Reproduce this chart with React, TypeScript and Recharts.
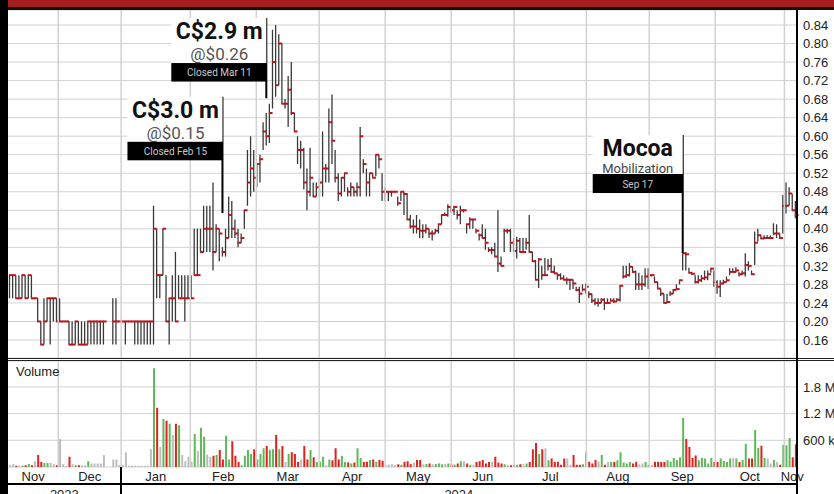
import React from 'react'
import {
  ComposedChart,
  Bar,
  Cell,
  XAxis,
  YAxis,
  CartesianGrid,
  ReferenceLine,
  ReferenceDot,
} from 'recharts'

// daily bars, Nov 2023 -> Nov 2024 (null = no trade)
const HIGH = [
  0.30, 0.30, 0.30, 0.30, 0.30, 0.30, 0.30, 0.30, 0.25, 0.25,
  0.20, 0.25, 0.25, 0.25, 0.25, 0.25, 0.25, 0.20, 0.20, 0.20,
  0.20, 0.20, 0.20, 0.20, 0.20, 0.20, 0.20, 0.20, 0.20, 0.20,
  0.20, null, null, 0.25, 0.25, 0.20, 0.20, 0.20, 0.20, 0.20,
  0.20, 0.20, 0.20, 0.20, 0.20, 0.20, 0.45, 0.40, 0.30, 0.40,
  0.30, 0.25, 0.30, 0.35, 0.30, 0.30, 0.30, 0.30, 0.30, 0.40,
  0.40, 0.40, 0.45, 0.45, 0.45, 0.50, 0.41, 0.40, 0.36, 0.40,
  0.47, 0.46, 0.42, 0.40, 0.39, 0.44, 0.57, 0.60, 0.57, 0.54,
  0.56, 0.63, 0.65, 0.67, 0.83, 0.84, 0.82, 0.80, 0.68, 0.73,
  0.76, 0.65, 0.60, 0.59, 0.575, 0.53, 0.575, 0.50, 0.50, 0.51,
  0.61, 0.54, 0.66, 0.69, 0.57, 0.52, 0.51, 0.52, 0.49, 0.50,
  0.49, 0.50, 0.62, 0.55, 0.53, 0.52, 0.52, 0.56, 0.56, 0.52,
  0.49, 0.48, 0.48, 0.48, 0.47, 0.48, 0.48, 0.477, 0.43, 0.42,
  0.43, 0.42, 0.41, 0.41, 0.40, 0.397, 0.40, 0.41, 0.43, 0.435,
  0.453, 0.45, 0.45, 0.44, 0.45, 0.44, 0.41, 0.425, 0.42, 0.40,
  0.39, 0.41, 0.40, 0.36, 0.36, 0.37, 0.44, 0.34, 0.40, 0.40,
  0.40, 0.38, 0.383, 0.38, 0.38, 0.38, 0.43, 0.35, 0.333, 0.337,
  0.32, 0.337, 0.335, 0.337, 0.32, 0.304, 0.304, 0.30, 0.295, 0.29,
  0.29, 0.275, 0.275, 0.28, 0.282, 0.265, 0.26, 0.25, 0.25, 0.25,
  0.25, 0.25, 0.25, 0.25, 0.25, 0.278, 0.32, 0.32, 0.326, 0.318,
  0.31, 0.305, 0.30, 0.315, 0.315, 0.30, 0.297, 0.285, 0.27, 0.26,
  0.26, 0.265, 0.27, 0.28, 0.289, 0.35, 0.35, 0.316, 0.305, 0.30,
  0.30, 0.30, 0.31, 0.31, 0.315, 0.31, 0.289, 0.289, 0.29, 0.297,
  0.315, 0.315, 0.317, 0.307, 0.31, 0.347, 0.33, 0.31, 0.394, 0.40,
  0.386, 0.386, 0.386, 0.386, 0.412, 0.41, 0.39, 0.473, 0.50, 0.49,
  0.475, 0.46,
]

const LOW = [
  0.25, 0.25, 0.25, 0.25, 0.25, 0.25, 0.25, 0.25, 0.25, 0.20,
  0.15, 0.15, 0.20, 0.15, 0.20, 0.20, 0.20, 0.20, 0.20, 0.15,
  0.15, 0.15, 0.15, 0.15, 0.15, 0.15, 0.15, 0.15, 0.15, 0.15,
  0.15, null, null, 0.15, 0.15, 0.20, 0.20, 0.15, 0.20, 0.20,
  0.15, 0.15, 0.15, 0.15, 0.15, 0.15, 0.15, 0.25, 0.25, 0.30,
  0.20, 0.15, 0.20, 0.20, 0.25, 0.25, 0.20, 0.25, 0.25, 0.30,
  0.30, 0.35, 0.35, 0.35, 0.35, 0.31, 0.35, 0.33, 0.34, 0.34,
  0.38, 0.38, 0.38, 0.36, 0.37, 0.40, 0.45, 0.47, 0.48, 0.49,
  0.50, 0.57, 0.58, 0.585, 0.66, 0.685, 0.71, 0.67, 0.66, 0.62,
  0.645, 0.61, 0.54, 0.53, 0.485, 0.44, 0.47, 0.47, 0.47, 0.47,
  0.47, 0.50, 0.50, 0.54, 0.50, 0.46, 0.47, 0.48, 0.47, 0.47,
  0.47, 0.47, 0.47, 0.52, 0.47, 0.47, 0.51, 0.513, 0.53, 0.46,
  0.46, 0.46, 0.47, 0.48, 0.45, 0.46, 0.43, 0.42, 0.40, 0.39,
  0.39, 0.38, 0.38, 0.39, 0.38, 0.375, 0.39, 0.39, 0.41, 0.43,
  0.426, 0.435, 0.43, 0.42, 0.41, 0.435, 0.39, 0.40, 0.40, 0.39,
  0.375, 0.38, 0.355, 0.35, 0.345, 0.34, 0.307, 0.32, 0.35, 0.39,
  0.35, 0.35, 0.336, 0.35, 0.35, 0.355, 0.35, 0.33, 0.29, 0.272,
  0.29, 0.30, 0.31, 0.305, 0.304, 0.29, 0.29, 0.29, 0.28, 0.268,
  0.27, 0.265, 0.24, 0.265, 0.26, 0.25, 0.24, 0.235, 0.232, 0.24,
  0.225, 0.24, 0.243, 0.24, 0.243, 0.243, 0.293, 0.295, 0.297, 0.305,
  0.268, 0.268, 0.268, 0.275, 0.27, 0.297, 0.285, 0.27, 0.255, 0.24,
  0.24, 0.255, 0.26, 0.27, 0.28, 0.31, 0.31, 0.305, 0.30, 0.282,
  0.282, 0.285, 0.289, 0.289, 0.305, 0.275, 0.26, 0.253, 0.28, 0.285,
  0.30, 0.305, 0.305, 0.297, 0.30, 0.297, 0.31, 0.30, 0.322, 0.372,
  0.378, 0.378, 0.378, 0.378, 0.386, 0.38, 0.378, 0.39, 0.433, 0.45,
  0.44, 0.423,
]

const CLOSE = [
  0.30, 0.30, 0.25, 0.25, 0.30, 0.25, 0.30, 0.25, 0.25, 0.20,
  0.15, 0.20, 0.25, 0.25, 0.25, 0.20, 0.20, 0.20, 0.20, 0.15,
  0.15, 0.20, 0.15, 0.15, 0.15, 0.20, 0.20, 0.20, 0.20, 0.20,
  0.20, null, null, 0.20, 0.20, 0.20, 0.20, 0.20, 0.20, 0.20,
  0.20, 0.20, 0.20, 0.20, 0.20, 0.20, 0.40, 0.30, 0.30, 0.40,
  0.20, 0.25, 0.25, 0.20, 0.25, 0.25, 0.25, 0.25, 0.25, 0.30,
  0.30, 0.35, 0.40, 0.40, 0.40, 0.35, 0.40, 0.39, 0.35, 0.38,
  0.43, 0.40, 0.39, 0.37, 0.38, 0.44, 0.50, 0.53, 0.51, 0.54,
  0.55, 0.61, 0.60, 0.65, 0.76, 0.71, 0.80, 0.67, 0.67, 0.70,
  0.65, 0.61, 0.57, 0.57, 0.50, 0.48, 0.51, 0.47, 0.49, 0.50,
  0.53, 0.53, 0.63, 0.59, 0.51, 0.476, 0.51, 0.52, 0.48, 0.49,
  0.48, 0.49, 0.60, 0.54, 0.50, 0.52, 0.51, 0.56, 0.55, 0.48,
  0.48, 0.48, 0.48, 0.48, 0.455, 0.48, 0.475, 0.42, 0.405, 0.405,
  0.40, 0.396, 0.396, 0.40, 0.39, 0.39, 0.396, 0.41, 0.43, 0.43,
  0.447, 0.44, 0.447, 0.43, 0.44, 0.44, 0.41, 0.42, 0.42, 0.396,
  0.386, 0.38, 0.37, 0.354, 0.354, 0.34, 0.325, 0.32, 0.396, 0.396,
  0.37, 0.352, 0.374, 0.35, 0.35, 0.37, 0.35, 0.33, 0.29, 0.334,
  0.30, 0.30, 0.32, 0.307, 0.304, 0.30, 0.293, 0.29, 0.29, 0.29,
  0.282, 0.268, 0.26, 0.269, 0.275, 0.259, 0.245, 0.24, 0.24, 0.247,
  0.24, 0.24, 0.245, 0.243, 0.247, 0.277, 0.297, 0.30, 0.318, 0.307,
  0.28, 0.28, 0.28, 0.297, 0.30, 0.30, 0.285, 0.271, 0.26, 0.24,
  0.242, 0.26, 0.268, 0.27, 0.289, 0.347, 0.345, 0.305, 0.303, 0.285,
  0.289, 0.293, 0.295, 0.302, 0.314, 0.285, 0.275, 0.282, 0.285, 0.289,
  0.307, 0.307, 0.31, 0.302, 0.304, 0.322, 0.32, 0.302, 0.37, 0.386,
  0.379, 0.38, 0.38, 0.38, 0.39, 0.39, 0.38, 0.449, 0.45, 0.476,
  0.44, 0.43,
]

// millions of shares
const VOLUME = [
  0.04, 0.07, 0.03, 0.03, 0.03, 0.04, 0.07, 0.04, 0.13, 0.27,
  0.11, 0.09, 0.09, 0.09, 0.06, 0.04, 0.63, 0.06, 0.03, 0.23,
  0.06, 0.04, 0.04, 0.04, 0.04, 0.13, 0.08, 0.08, 0.08, 0.08,
  0.27, null, null, 0.17, 0.17, 0.05, 0.04, 0.33, 0.03, 0.03,
  0.03, 0.03, 0.03, 0.03, 0.03, 0.40, 2.22, 1.33, 0.45, 1.08,
  1.04, 0.97, 0.72, 0.97, 0.94, 0.27, 0.13, 0.23, 0.12, 0.74,
  0.36, 0.88, 0.68, 0.28, 0.23, 0.25, 0.27, 0.38, 0.17, 0.70,
  0.17, 0.58, 0.25, 0.11, 0.04, 0.25, 0.38, 0.29, 0.40, 0.17,
  0.29, 0.42, 0.47, 0.38, 0.40, 0.72, 0.40, 0.47, 0.11, 0.29,
  0.33, 0.29, 0.11, 0.17, 0.47, 0.17, 0.38, 0.22, 0.11, 0.12,
  0.23, 0.04, 0.17, 0.15, 0.42, 0.17, 0.25, 0.11, 0.10, 0.08,
  0.10, 0.42, 0.20, 0.11, 0.12, 0.16, 0.17, 0.12, 0.16, 0.14,
  0.05, 0.05, 0.06, 0.05, 0.06, 0.05, 0.12, 0.13, 0.06, 0.10,
  0.16, 0.16, 0.06, 0.07, 0.08, 0.06, 0.07, 0.08, 0.06, 0.07,
  0.08, 0.06, 0.05, 0.08, 0.13, 0.13, 0.08, 0.05, 0.05, 0.11,
  0.13, 0.16, 0.08, 0.11, 0.12, 0.23, 0.10, 0.08, 0.06, 0.04,
  0.04, 0.05, 0.05, 0.06, 0.06, 0.08, 0.11, 0.40, 0.54, 0.29,
  0.40, 0.42, 0.15, 0.19, 0.11, 0.12, 0.05, 0.19, 0.19, 0.05,
  0.27, 0.05, 0.05, 0.06, 0.33, 0.12, 0.08, 0.16, 0.12, 0.27,
  0.05, 0.11, 0.12, 0.11, 0.15, 0.33, 0.10, 0.08, 0.11, 0.08,
  0.12, 0.06, 0.08, 0.11, 0.05, 0.05, 0.12, 0.12, 0.11, 0.11,
  0.15, 0.12, 0.20, 0.16, 0.22, 1.10, 0.63, 0.45, 0.20, 0.26,
  0.15, 0.20, 0.19, 0.08, 0.20, 0.12, 0.11, 0.19, 0.14, 0.11,
  0.19, 0.20, 0.19, 0.11, 0.16, 0.52, 0.19, 0.19, 0.83, 0.43,
  0.48, 0.20, 0.19, 0.08, 0.16, 0.11, 0.05, 0.50, 0.49, 0.65,
  0.22, 0.51,
]

// first trading-day index of each month
const MONTH_STARTS = [0, 16, 36, 58, 79, 99, 120, 141, 161, 184, 204, 225, 247]
const MONTH_LABELS = ['Nov', 'Dec', 'Jan', 'Feb', 'Mar', 'Apr', 'May', 'Jun', 'Jul', 'Aug', 'Sep', 'Oct', 'Nov']
const YEAR_LABELS = ['2023', '2024']
const YEAR_STARTS = [0, 36]

const PRICE_TICKS = [0.16, 0.2, 0.24, 0.28, 0.32, 0.36, 0.4, 0.44, 0.48, 0.52, 0.56, 0.6, 0.64, 0.68, 0.72, 0.76, 0.8, 0.84]
const VOLUME_TICKS = [0.6, 1.2, 1.8]

const DEALS = [
  { day: 68, top: 0.685, base: 0.434, amount: 'C$3.0 m', price: '@$0.15', note: 'Closed Feb 15' },
  { day: 82, top: 0.855, base: 0.682, amount: 'C$2.9 m', price: '@$0.26', note: 'Closed Mar 11' },
]
const EVENTS = [
  { day: 215, top: 0.6025, base: 0.348, title: 'Mocoa', sub: 'Mobilization', note: 'Sep 17' },
]

const DAY_COUNT = CLOSE.length
const CHART_W = 826
const AXIS_W = 37
const PLOT_LEFT = 8
const PLOT_W = CHART_W - AXIS_W
const AXIS_FONT = '"Liberation Sans", Arial, sans-serif'
const NOTE_FONT = 'Roboto, "Noto Sans", sans-serif'
const GRID = '#d2d2d2'
const UP = '#5fb85a'
const DOWN = '#e0211c'
const FLAT = '#bdbdbd'

const bars = CLOSE.map((close, i) => {
  let prev: number | null = null
  for (let k = i - 1; k >= 0; k--) {
    if (CLOSE[k] != null) { prev = CLOSE[k]; break }
  }
  let color = FLAT
  if (close != null && prev != null) color = close > prev ? UP : close < prev ? DOWN : FLAT
  return {
    i,
    range: close == null ? null : [LOW[i], HIGH[i]],
    high: HIGH[i],
    low: LOW[i],
    close,
    volume: VOLUME[i],
    color,
  }
})

const monthMids = MONTH_STARTS.map((s, k) => (s + (MONTH_STARTS[k + 1] ?? DAY_COUNT)) / 2)
const dayX = (d: number) => PLOT_LEFT + (d * PLOT_W) / DAY_COUNT

function OhlcBar(props: any) {
  const { x, y, width, height, payload } = props
  if (payload == null || payload.close == null) return null
  const cx = x + width / 2
  const span = payload.high - payload.low
  const cy = span > 0 ? y + (height * (payload.high - payload.close)) / span : y
  return (
    <g>
      {height > 0 && (
        <line x1={cx} x2={cx} y1={y} y2={y + height} stroke="#3a3a3a" strokeWidth={1.3} />
      )}
      <line x1={cx - 0.5} x2={cx + 3.2} y1={cy} y2={cy} stroke="#c3121c" strokeWidth={2} />
    </g>
  )
}

function DealLabel({ cx, cy, d }: any) {
  const mid = cx - 47
  return (
    <g fontFamily={NOTE_FONT}>
      <rect x={cx - 95} y={cy} width={95} height={45} fill="#fff" />
      <text x={mid} y={cy + 21} textAnchor="middle" fontSize={23} fontWeight={700} fill="#111">{d.amount}</text>
      <text x={mid} y={cy + 42} textAnchor="middle" fontSize={17} fill="#555">{d.price}</text>
      <rect x={cx - 95} y={cy + 45} width={95} height={18.5} fill="#000" />
      <text x={mid} y={cy + 58} textAnchor="middle" fontSize={10} fill="#c8c8c8">{d.note}</text>
    </g>
  )
}

function EventLabel({ cx, cy, d }: any) {
  const mid = cx - 45
  return (
    <g fontFamily={NOTE_FONT}>
      <rect x={cx - 90} y={cy} width={90} height={39} fill="#fff" />
      <text x={mid} y={cy + 21} textAnchor="middle" fontSize={23} fontWeight={700} fill="#111">{d.title}</text>
      <text x={mid} y={cy + 38} textAnchor="middle" fontSize={13} fill="#444">{d.sub}</text>
      <rect x={cx - 90} y={cy + 39} width={90} height={19} fill="#000" />
      <text x={mid} y={cy + 52.5} textAnchor="middle" fontSize={10} fill="#c8c8c8">{d.note}</text>
    </g>
  )
}

// right-hand axis labels, drawn as plain text so they never wrap
function SideTick({ x, y, payload, fmt }: any) {
  return (
    <text x={x} y={y} dy="0.36em" textAnchor="start" fontSize={13} fontFamily={AXIS_FONT} fill="#222">
      {fmt(payload.value)}
    </text>
  )
}

// month names under the volume pane (plot bottom is 106 px into the chart)
function MonthTick({ x, index }: any) {
  return (
    <text x={x} y={120} textAnchor="middle" fontSize={13} fontFamily={AXIS_FONT} fill="#222">
      {MONTH_LABELS[index]}
    </text>
  )
}

const fmtPrice = (v: number) => v.toFixed(2)
const fmtVolume = (v: number) => (v < 1 ? `${Math.round(v * 1000)} k` : `${v.toFixed(1)} M`)

function PriceChart() {
  return (
    <ComposedChart
      width={CHART_W}
      height={348}
      data={bars}
      margin={{ top: 0, right: 0, bottom: 0, left: 0 }}
      barCategoryGap={0}
    >
      <CartesianGrid stroke={GRID} vertical={false} />
      <XAxis dataKey="i" hide />
      <XAxis xAxisId="t" type="number" domain={[0, DAY_COUNT]} hide />
      <YAxis
        orientation="right"
        width={AXIS_W}
        domain={[0.1211, 0.8724]}
        allowDataOverflow
        ticks={PRICE_TICKS}
        interval={0}
        tick={<SideTick fmt={fmtPrice} />}
        tickLine={false}
        tickMargin={0}
        axisLine={{ stroke: '#000', strokeWidth: 2 }}
      />
      {MONTH_STARTS.slice(1).map(m => (
        <ReferenceLine key={m} xAxisId="t" x={m} stroke={GRID} strokeWidth={1.5} />
      ))}
      <Bar dataKey="range" shape={<OhlcBar />} isAnimationActive={false} />
      {DEALS.map(d => (
        <ReferenceLine
          key={'l' + d.day}
          segment={[{ x: d.day, y: d.base }, { x: d.day, y: d.top }]}
          stroke="#000"
          strokeWidth={2}
        />
      ))}
      {DEALS.map(d => (
        <ReferenceDot
          key={'d' + d.day}
          x={d.day}
          y={d.top}
          r={0}
          shape={(p: any) => <DealLabel cx={p.cx} cy={p.cy} d={d} />}
        />
      ))}
      {EVENTS.map(d => (
        <ReferenceLine
          key={'el' + d.day}
          segment={[{ x: d.day, y: d.base }, { x: d.day, y: d.top }]}
          stroke="#000"
          strokeWidth={2}
        />
      ))}
      {EVENTS.map(d => (
        <ReferenceDot
          key={'e' + d.day}
          x={d.day}
          y={d.top}
          r={0}
          shape={(p: any) => <EventLabel cx={p.cx} cy={p.cy} d={d} />}
        />
      ))}
    </ComposedChart>
  )
}

function VolumeChart() {
  return (
    <ComposedChart
      width={CHART_W}
      height={133}
      data={bars}
      margin={{ top: 0, right: 0, bottom: 0, left: 0 }}
    >
      <CartesianGrid stroke={GRID} vertical={false} />
      <XAxis dataKey="i" hide />
      <XAxis
        xAxisId="t"
        type="number"
        domain={[0, DAY_COUNT]}
        ticks={monthMids}
        interval={0}
        height={27}
        tick={<MonthTick />}
        tickLine={false}
        axisLine={{ stroke: '#000', strokeWidth: 2 }}
      />
      <YAxis
        orientation="right"
        width={AXIS_W}
        domain={[0, 2.382]}
        allowDataOverflow
        ticks={VOLUME_TICKS}
        interval={0}
        tick={<SideTick fmt={fmtVolume} />}
        tickLine={false}
        tickMargin={0}
        axisLine={{ stroke: '#000', strokeWidth: 2 }}
      />
      {MONTH_STARTS.slice(1).map(m => (
        <ReferenceLine key={m} xAxisId="t" x={m} stroke={GRID} strokeWidth={1.5} />
      ))}
      <Bar dataKey="volume" barSize={2} isAnimationActive={false}>
        {bars.map(b => (
          <Cell key={b.i} fill={b.color} />
        ))}
      </Bar>
    </ComposedChart>
  )
}

export default function App() {
  const abs = (s: React.CSSProperties): React.CSSProperties => ({ position: 'absolute', ...s })
  const yearEdges = [...YEAR_STARTS.map(dayX), dayX(DAY_COUNT)]
  return (
    <div style={abs({ left: 0, top: 0, width: 834, height: 494, background: '#fff', overflow: 'hidden', fontFamily: AXIS_FONT })}>
      <div style={abs({ left: 0, top: 0, width: 834, height: 7, background: '#a61d1d' })} />
      <div style={abs({ left: 0, top: 7, width: 834, height: 3, background: '#111' })} />

      <div style={abs({ left: 8, top: 10 })}>
        <PriceChart />
      </div>

      <div style={abs({ left: 8, top: 358, width: 826, height: 1, background: '#222' })} />
      <div style={abs({ left: 8, top: 360, width: 826, height: 1, background: '#222' })} />

      <div style={abs({ left: 8, top: 361 })}>
        <VolumeChart />
      </div>
      <div style={abs({ left: 16, top: 364, fontSize: 13, color: '#222' })}>Volume</div>

      <div style={abs({ left: 8, top: 483, width: PLOT_W, height: 2, background: '#000' })} />
      <div style={abs({ left: yearEdges[1] - 1, top: 467, width: 2, height: 27, background: '#000' })} />
      {YEAR_LABELS.map((y, k) => (
        <div
          key={y}
          style={abs({
            left: yearEdges[k],
            width: yearEdges[k + 1] - yearEdges[k],
            top: 487,
            textAlign: 'center',
            fontSize: 13,
            color: '#222',
            lineHeight: '15px',
          })}
        >
          {y}
        </div>
      ))}
      <div style={abs({ left: 796, top: 10, width: 2, height: 484, background: '#000' })} />
      <div style={abs({ left: 0, top: 0, width: 8, height: 494, background: '#000' })} />
    </div>
  )
}
